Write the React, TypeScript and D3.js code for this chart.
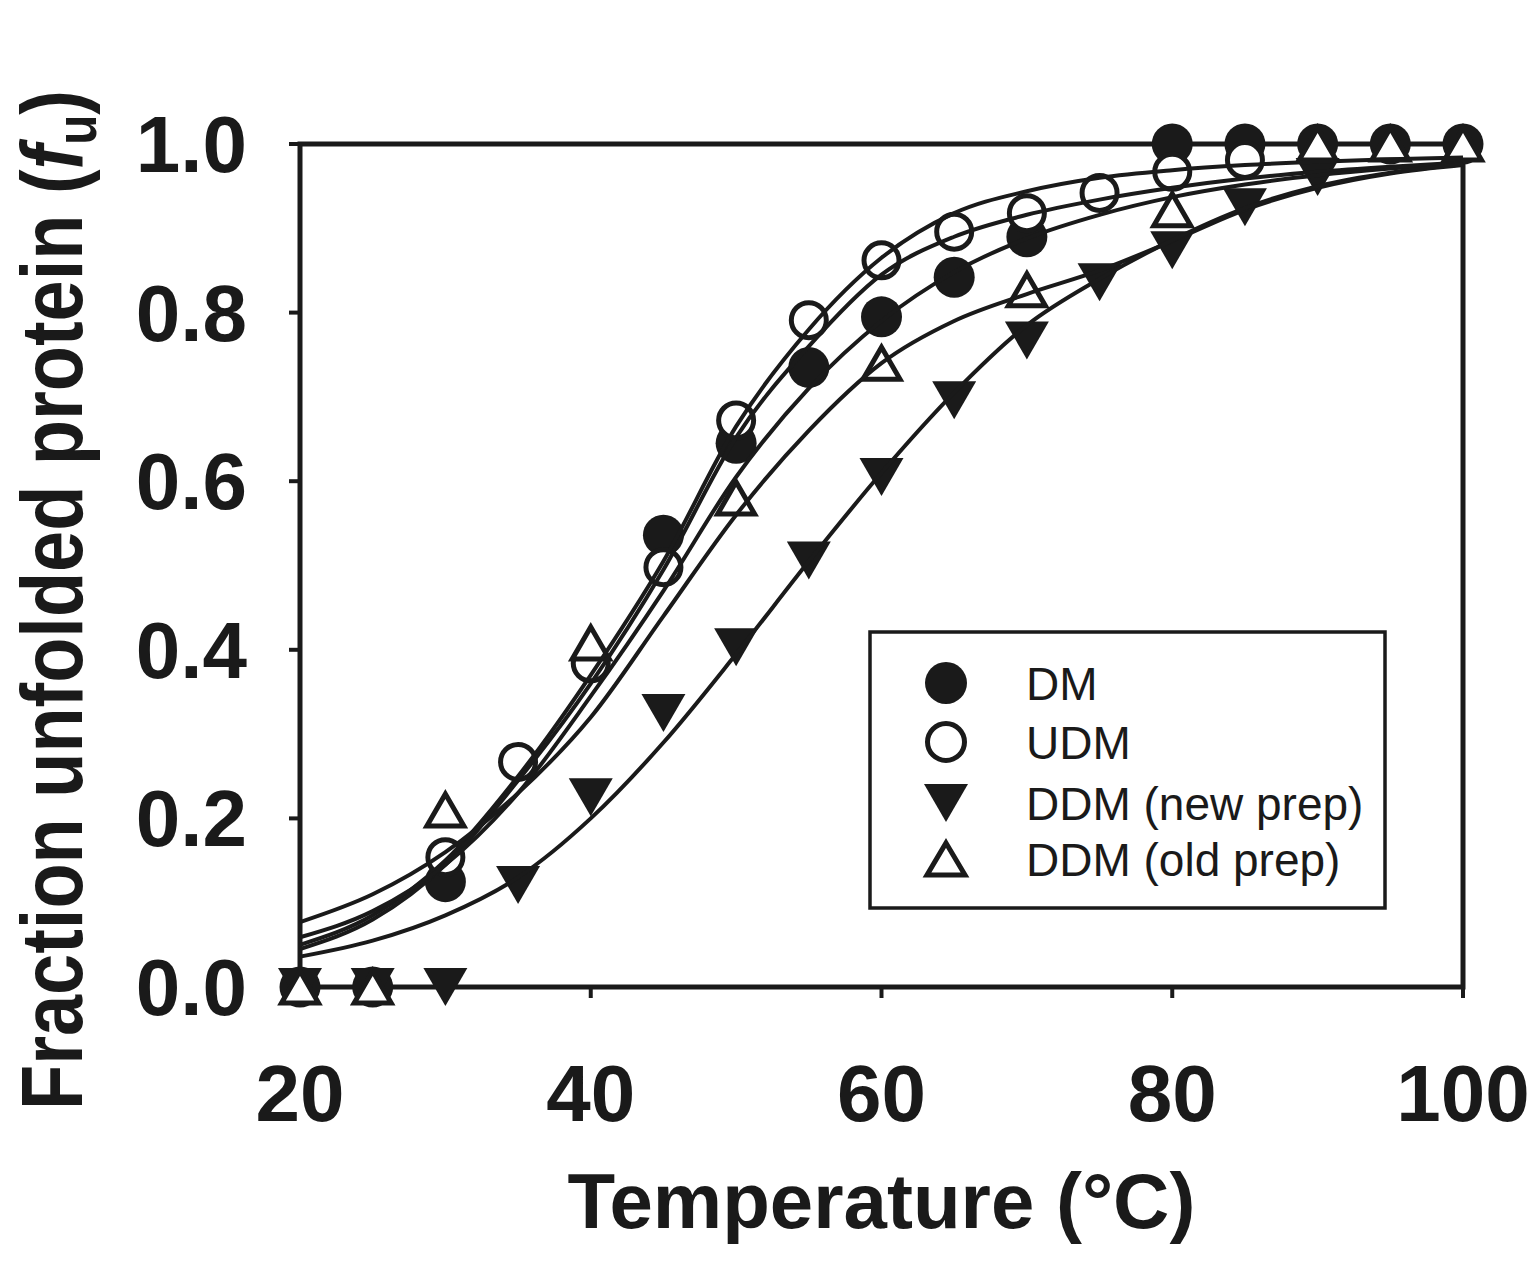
import { useRef, useEffect } from "react"
import * as d3 from "d3"

// axis ticks
const xTicks = [20, 40, 60, 80, 100]
const yTicks = [0, 0.2, 0.4, 0.6, 0.8, 1.0]

// measured points (temperature in °C, fraction unfolded)
const dmTemp = [20, 25, 30, 45, 50, 55, 60, 65, 70, 80, 85, 90, 95, 100]
const dmFrac = [0, 0, 0.125, 0.536, 0.645, 0.735, 0.795, 0.842, 0.89, 1.0, 1.0, 1.0, 1.0, 1.0]

const udmTemp = [30, 35, 40, 45, 50, 55, 60, 65, 70, 75, 80, 85]
const udmFrac = [0.154, 0.267, 0.384, 0.498, 0.672, 0.791, 0.862, 0.896, 0.918, 0.942, 0.967, 0.981]

const newTemp = [20, 25, 30, 35, 40, 45, 50, 55, 60, 65, 70, 75, 80, 85, 90]
const newFrac = [0, 0, 0, 0.121, 0.225, 0.325, 0.403, 0.506, 0.605, 0.696, 0.767, 0.836, 0.874, 0.925, 0.961]

const oldTemp = [20, 25, 30, 40, 50, 60, 70, 80, 90, 95, 100]
const oldFrac = [0, 0, 0.21, 0.408, 0.58, 0.74, 0.827, 0.922, 1.0, 1.0, 1.0]

// fitted curves, every 5 °C
const fitTemp = [20, 25, 30, 35, 40, 45, 50, 55, 60, 65, 70, 75, 80, 85, 90, 95, 100]
const fitUDM = [0.05, 0.085, 0.15, 0.25, 0.37, 0.505, 0.665, 0.78, 0.865, 0.918, 0.944, 0.96, 0.969, 0.975, 0.979, 0.982, 0.984]
const fitDM = [0.045, 0.08, 0.145, 0.245, 0.36, 0.495, 0.652, 0.76, 0.845, 0.89, 0.916, 0.934, 0.948, 0.959, 0.967, 0.973, 0.978]
const fitDMBroad = [0.059, 0.09, 0.145, 0.23, 0.345, 0.47, 0.605, 0.71, 0.79, 0.848, 0.888, 0.916, 0.937, 0.952, 0.963, 0.971, 0.977]
const fitOld = [0.077, 0.11, 0.16, 0.23, 0.32, 0.44, 0.56, 0.66, 0.74, 0.79, 0.822, 0.85, 0.885, 0.922, 0.948, 0.965, 0.975]
const fitNew = [0.036, 0.055, 0.085, 0.13, 0.2, 0.29, 0.395, 0.505, 0.61, 0.705, 0.785, 0.84, 0.886, 0.924, 0.95, 0.966, 0.976]

const legendLabels = ["DM", "UDM", "DDM (new prep)", "DDM (old prep)"]

const INK = "#1a1a1a"
const FONT = "'Liberation Sans', Arial, Helvetica, sans-serif"

export default function App() {
  const svgRef = useRef<SVGSVGElement | null>(null)

  useEffect(() => {
    if (!svgRef.current) return
    const svg = d3.select(svgRef.current)
    svg.selectAll("*").remove()

    const x = d3.scaleLinear().domain([20, 100]).range([300, 1463])
    const y = d3.scaleLinear().domain([0, 1]).range([987, 144])

    // marker helpers
    const filledCircle = (g: any, cx: number, cy: number, r = 20.5) =>
      g.append("circle").attr("cx", cx).attr("cy", cy).attr("r", r).attr("fill", INK)
    const openCircle = (g: any, cx: number, cy: number, r = 17.5) =>
      g.append("circle").attr("cx", cx).attr("cy", cy).attr("r", r)
        .attr("fill", "#fff").attr("stroke", INK).attr("stroke-width", 5)
    const downTri = (g: any, cx: number, cy: number, w = 22, h = 19) =>
      g.append("path")
        .attr("d", `M${cx - w},${cy - h}L${cx + w},${cy - h}L${cx},${cy + h}Z`)
        .attr("fill", INK)
    const upTri = (g: any, cx: number, cy: number, w = 18.5, h = 16) =>
      g.append("path")
        .attr("d", `M${cx},${cy - h}L${cx + w},${cy + h}L${cx - w},${cy + h}Z`)
        .attr("fill", "#fff").attr("stroke", INK).attr("stroke-width", 5)
        .attr("stroke-linejoin", "miter")

    // frame
    svg.append("rect")
      .attr("x", x(20)).attr("y", y(1))
      .attr("width", x(100) - x(20)).attr("height", y(0) - y(1))
      .attr("fill", "none").attr("stroke", INK).attr("stroke-width", 5)

    // ticks
    svg.selectAll(".xt").data(xTicks).enter().append("line")
      .attr("x1", (d) => x(d)).attr("x2", (d) => x(d))
      .attr("y1", y(0)).attr("y2", y(0) + 11)
      .attr("stroke", INK).attr("stroke-width", 4)
    svg.selectAll(".yt").data(yTicks).enter().append("line")
      .attr("x1", x(20) - 11).attr("x2", x(20))
      .attr("y1", (d) => y(d)).attr("y2", (d) => y(d))
      .attr("stroke", INK).attr("stroke-width", 4)

    // tick labels
    svg.selectAll(".xl").data(xTicks).enter().append("text")
      .attr("x", (d) => x(d)).attr("y", 1121)
      .attr("text-anchor", "middle")
      .style("font-family", FONT).style("font-size", "80px").style("font-weight", "bold")
      .attr("fill", INK)
      .text((d) => d)
    svg.selectAll(".yl").data(yTicks).enter().append("text")
      .attr("x", 247).attr("y", (d) => y(d) + 28)
      .attr("text-anchor", "end")
      .style("font-family", FONT).style("font-size", "80px").style("font-weight", "bold")
      .attr("fill", INK)
      .text((d) => d3.format(".1f")(d))

    // axis titles
    svg.append("text")
      .attr("x", (x(20) + x(100)) / 2).attr("y", 1228)
      .attr("text-anchor", "middle")
      .style("font-family", FONT).style("font-size", "78px").style("font-weight", "bold")
      .attr("fill", INK)
      .text("Temperature (°C)")

    const yt = svg.append("text")
      .attr("transform", "translate(82,600) rotate(-90) scale(0.85,1)")
      .attr("text-anchor", "middle")
      .style("font-family", FONT).style("font-size", "87px").style("font-weight", "bold")
      .attr("fill", INK)
    yt.append("tspan").text("Fraction unfolded protein (")
    yt.append("tspan").style("font-style", "italic").text("f")
    yt.append("tspan").style("font-size", "58px").attr("dy", 14).text("u")
    yt.append("tspan").attr("dy", -14).text(")")

    // markers
    const pts = svg.append("g")
    dmTemp.forEach((t, i) => filledCircle(pts, x(t), y(dmFrac[i])))
    udmTemp.forEach((t, i) => openCircle(pts, x(t), y(udmFrac[i])))
    newTemp.forEach((t, i) => downTri(pts, x(t), y(newFrac[i])))
    oldTemp.forEach((t, i) => upTri(pts, x(t), y(oldFrac[i])))

    // fitted curves on top
    const line = d3.line<number>()
      .x((_, i) => x(fitTemp[i]))
      .y((d) => y(d))
      .curve(d3.curveMonotoneX)
    const fits = [fitUDM, fitDM, fitDMBroad, fitOld, fitNew]
    svg.append("g").selectAll("path").data(fits).enter().append("path")
      .attr("d", (d) => line(d))
      .attr("fill", "none").attr("stroke", INK).attr("stroke-width", 4)

    // legend
    const lg = svg.append("g")
    lg.append("rect")
      .attr("x", 870).attr("y", 632).attr("width", 515).attr("height", 276)
      .attr("fill", "#fff").attr("stroke", INK).attr("stroke-width", 3.5)
    const rowY = [683, 742, 803, 859]
    filledCircle(lg, 946, rowY[0], 21)
    openCircle(lg, 946, rowY[1], 18.5)
    downTri(lg, 946, rowY[2], 22, 19)
    upTri(lg, 946, rowY[3], 19, 16)
    lg.selectAll("text").data(legendLabels).enter().append("text")
      .attr("x", 1026).attr("y", (_, i) => rowY[i] + 16.5)
      .style("font-family", FONT).style("font-size", "46px")
      .attr("fill", INK)
      .text((d) => d)
  }, [])

  return (
    <svg
      ref={svgRef}
      width={1532}
      height={1265}
      style={{ position: "absolute", left: 0, top: 0, background: "#fff" }}
    />
  )
}
